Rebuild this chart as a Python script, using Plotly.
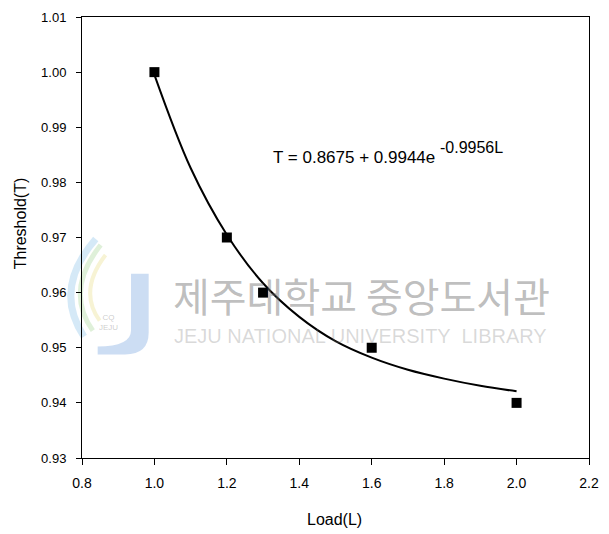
import plotly.graph_objects as go

# Measured threshold vs load
load = [1.0, 1.2, 1.3, 1.6, 2.0]
threshold = [1.000, 0.970, 0.960, 0.950, 0.940]

# Fitted exponential trend, sampled along L
fit_load = [1.0, 1.1, 1.2, 1.3, 1.4, 1.5, 1.6, 1.7, 1.8, 1.9, 2.0]
fit_threshold = [0.9995, 0.9826, 0.9705, 0.9617, 0.9556, 0.9512, 0.9482, 0.9460, 0.9444,
                 0.9431, 0.9421]

x_ticks = [0.8, 1.0, 1.2, 1.4, 1.6, 1.8, 2.0, 2.2]
y_ticks = [0.93, 0.94, 0.95, 0.96, 0.97, 0.98, 0.99, 1.00, 1.01]

font_family = "Liberation Sans, Arial, sans-serif"

# page geometry of the plotting area (pixels)
W, H = 609, 534
L_M, R_M, T_M, B_M = 82, 10, 15, 76
PW = W - L_M - R_M
PH = H - T_M - B_M


def px(x):
    return (x - L_M) / PW


def py(y):
    return (H - B_M - y) / PH


def path(points):
    cmds = []
    for c in points:
        if isinstance(c, str):
            cmds.append(c)
        else:
            cmds.append(f"{px(c[0]):.4f},{py(c[1]):.4f}")
    return " ".join(cmds)


fig = go.Figure()

fig.add_trace(go.Scatter(
    x=fit_load, y=fit_threshold, mode="lines",
    line=dict(color="black", width=2, shape="spline", smoothing=1.0),
    hoverinfo="skip", showlegend=False,
))
fig.add_trace(go.Scatter(
    x=load, y=threshold, mode="markers",
    marker=dict(symbol="square", size=10, color="black"),
    showlegend=False,
))

# Library watermark logo: coloured swooshes and the "J" bar
logo_shapes = [
    dict(type="path", xref="paper", yref="paper", layer="below",
         path=path(["M", (96, 238), "Q", (52, 288), (84, 336)]),
         line=dict(color="rgba(150,200,235,0.4)", width=7)),
    dict(type="path", xref="paper", yref="paper", layer="below",
         path=path(["M", (101, 244), "Q", (64, 290), (93, 330)]),
         line=dict(color="rgba(175,218,160,0.4)", width=5)),
    dict(type="path", xref="paper", yref="paper", layer="below",
         path=path(["M", (106, 254), "Q", (78, 290), (100, 320)]),
         line=dict(color="rgba(238,228,160,0.45)", width=4)),
    dict(type="path", xref="paper", yref="paper", layer="below",
         path=path(["M", (132, 273), "L", (150, 273), "L", (150, 332),
                    "Q", (150, 354), (126, 354), "L", (98, 354), "L", (98, 346),
                    "Q", (132, 346), (132, 330), "Z"]),
         fillcolor="rgba(170,198,235,0.6)", line=dict(width=0)),
]

annotations = [
    # fitted equation
    dict(text="T = 0.8675 + 0.9944e", xref="paper", yref="paper",
         x=px(275), y=py(156), xanchor="left", yanchor="middle", showarrow=False,
         font=dict(size=17, color="black")),
    dict(text="-0.9956L", xref="paper", yref="paper",
         x=px(445), y=py(146), xanchor="left", yanchor="middle", showarrow=False,
         font=dict(size=16, color="black")),
    # axis titles
    dict(text="Threshold(T)", xref="paper", yref="paper",
         x=px(19), y=py(222), xanchor="center", yanchor="middle", showarrow=False,
         textangle=-90, font=dict(size=16, color="black")),
    dict(text="Load(L)", xref="paper", yref="paper",
         x=px(339), y=py(520), xanchor="center", yanchor="middle", showarrow=False,
         font=dict(size=16, color="black")),
    # watermark text
    dict(text="제주대학교 중앙도서관", xref="paper", yref="paper",
         x=px(173), y=py(294), xanchor="left", yanchor="middle", showarrow=False,
         font=dict(family="Noto Sans CJK KR", size=40, color="rgba(110,110,110,0.45)")),
    dict(text="JEJU NATIONAL UNIVERSITY  LIBRARY", xref="paper", yref="paper",
         x=px(174), y=py(335), xanchor="left", yanchor="middle", showarrow=False,
         font=dict(family=font_family, size=20, color="rgba(120,120,120,0.28)")),
    dict(text="CQ<br>JEJU", xref="paper", yref="paper",
         x=px(109), y=py(322), xanchor="center", yanchor="middle", showarrow=False,
         font=dict(family=font_family, size=8, color="rgba(140,140,140,0.45)")),
]

fig.update_layout(
    width=W, height=H,
    margin=dict(l=L_M, r=R_M, t=T_M, b=B_M),
    paper_bgcolor="white", plot_bgcolor="white",
    font=dict(family=font_family, size=14, color="black"),
    shapes=logo_shapes,
    annotations=annotations,
    xaxis=dict(
        range=[0.8, 2.2], tickvals=x_ticks, ticktext=[f"{v:.1f}" for v in x_ticks],
        ticks="outside", ticklen=6, tickcolor="black", tickwidth=1,
        ticklabelstandoff=6,
        showline=True, linecolor="black", linewidth=1, mirror=True,
        showgrid=False, zeroline=False,
        tickfont=dict(size=14),
    ),
    yaxis=dict(
        range=[0.93, 1.01], tickvals=y_ticks, ticktext=[f"{v:.2f}" for v in y_ticks],
        ticks="outside", ticklen=5, tickcolor="black", tickwidth=1,
        ticklabelstandoff=7,
        showline=True, linecolor="black", linewidth=1, mirror=True,
        showgrid=False, zeroline=False,
        tickfont=dict(size=13),
    ),
)

fig.write_html("out.html")
